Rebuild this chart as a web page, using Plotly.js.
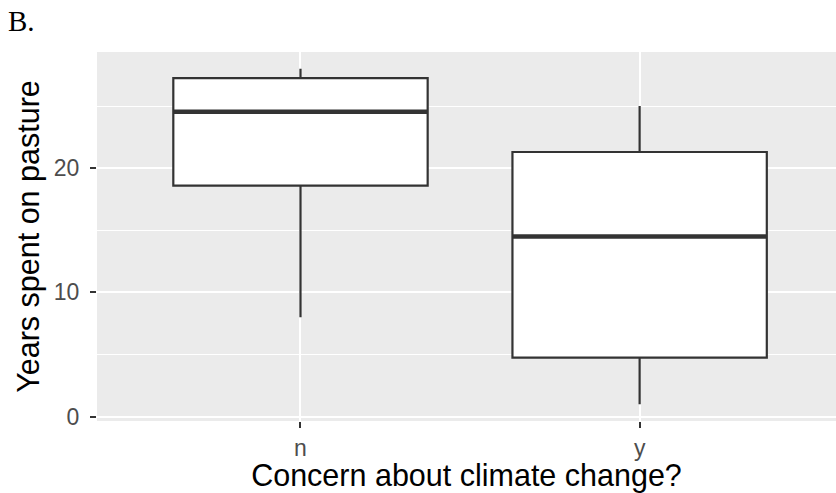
<!DOCTYPE html>
<html>
<head>
<meta charset="utf-8">
<script src="https://cdn.plot.ly/plotly-3.0.1.min.js"></script>
<style>
html,body{margin:0;padding:0;background:#fff;}
#chart{width:836px;height:493px;}
</style>
</head>
<body>
<div id="chart"></div>
<script>
// Data
var categories = ['n', 'y'];
var lowerWhisker = [8, 1];
var q1Values = [18.6, 4.75];
var medianValues = [24.55, 14.5];
var q3Values = [27.25, 21.3];
var upperWhisker = [28, 25];
var yTickVals = [0, 10, 20];
var yTickText = ['0', '10', '20'];

var boxColor = '#333333';

var trace = {
  type: 'box',
  x: categories,
  q1: q1Values,
  median: medianValues,
  q3: q3Values,
  lowerfence: lowerWhisker,
  upperfence: upperWhisker,
  boxpoints: false,
  width: 0.75,
  whiskerwidth: 0,
  fillcolor: '#FFFFFF',
  line: {color: boxColor, width: 2.2},
  hoverinfo: 'skip',
  showlegend: false
};

var halfW = 0.375;
var medianShapes = categories.map(function (c, i) {
  return {
    type: 'line', xref: 'x', yref: 'y',
    x0: i - halfW, x1: i + halfW,
    y0: medianValues[i], y1: medianValues[i],
    line: {color: boxColor, width: 4.5},
    layer: 'above'
  };
});

var layout = {
  width: 836,
  height: 493,
  margin: {l: 97, r: 0, t: 52, b: 72, pad: 0},
  paper_bgcolor: '#FFFFFF',
  plot_bgcolor: '#EBEBEB',
  font: {family: 'Liberation Sans, Arial, sans-serif', color: '#000000'},
  title: {
    text: 'B.',
    font: {family: 'Liberation Serif, Times New Roman, serif', size: 29, color: '#000000'},
    xref: 'container', yref: 'container',
    x: 8 / 836, xanchor: 'left',
    y: 1 - 11 / 493, yanchor: 'top'
  },
  xaxis: {
    type: 'category',
    range: [-0.6, 1.579],
    showgrid: true,
    gridcolor: '#FFFFFF',
    gridwidth: 2,
    zeroline: false,
    showline: false,
    ticks: 'outside',
    ticklen: 6,
    tickwidth: 2,
    tickcolor: '#333333',
    tickfont: {size: 23, color: '#4D4D4D'},
    title: {text: 'Concern about climate change?', font: {size: 30.5, color: '#000000'}, standoff: 2},
    fixedrange: true
  },
  yaxis: {
    range: [-0.35, 29.35],
    tickvals: yTickVals,
    ticktext: yTickText,
    showgrid: true,
    gridcolor: '#FFFFFF',
    gridwidth: 2,
    minor: {dtick: 5, showgrid: true, gridcolor: '#FFFFFF', gridwidth: 1, ticks: ''},
    zeroline: false,
    showline: false,
    ticks: 'outside',
    ticklen: 6,
    tickwidth: 2,
    tickcolor: '#333333',
    ticklabelstandoff: 6,
    tickfont: {size: 23, color: '#4D4D4D'},
    title: {text: 'Years spent on pasture', font: {size: 30.5, color: '#000000'}, standoff: 5},
    fixedrange: true
  },
  shapes: medianShapes
};

Plotly.newPlot('chart', [trace], layout, {displayModeBar: false, staticPlot: true});
</script>
</body>
</html>
